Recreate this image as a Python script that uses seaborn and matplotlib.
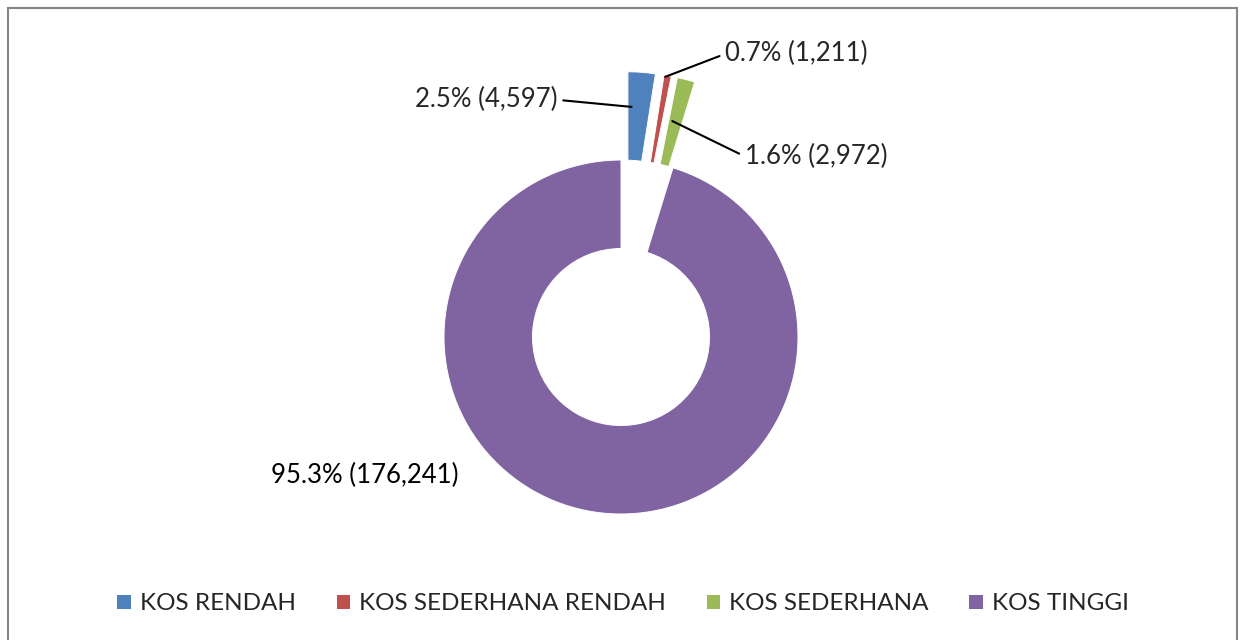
import matplotlib
matplotlib.use("Agg")
import matplotlib.pyplot as plt
import seaborn as sns
from matplotlib.patches import Rectangle

# data
kategori = ['KOS RENDAH', 'KOS SEDERHANA RENDAH', 'KOS SEDERHANA', 'KOS TINGGI']
jumlah = [4597, 1211, 2972, 176241]
warna = ['#4F81BD', '#C0504D', '#9BBB59', '#8064A2']
letupan = [0.5, 0.5, 0.5, 0.0]

sns.set_theme(style="white")
plt.rcParams['font.family'] = ['Lato', 'DejaVu Sans']

fig = plt.figure(figsize=(12.45, 6.4), dpi=100)
ax = fig.add_axes([0, 0, 1, 1])
ax.axis('off')

wedges, _ = ax.pie(jumlah, colors=sns.color_palette(warna), explode=letupan,
                   startangle=90, counterclock=False, radius=1.0,
                   wedgeprops=dict(width=0.5, edgecolor='white', linewidth=0.7))

# same scale on both axes: 177 px per unit, centre at (621, 337) px
ax.set_xlim(-621 / 177, (1245 - 621) / 177)
ax.set_ylim(-303 / 177, 337 / 177)

jumlah_semua = sum(jumlah)
label = [f"{v / jumlah_semua * 100:.1f}% ({v:,})" for v in jumlah]

# label positions (text anchor, point on slice)
posisi = [
    ((-0.36, 1.34), (0.06, 1.30), 'right'),
    ((0.59, 1.60), (0.25, 1.47), 'left'),
    ((0.70, 1.02), (0.29, 1.22), 'left'),
    ((-0.92, -0.78), None, 'right'),
]
for teks, (xt, xy, ha) in zip(label, posisi):
    if xy is None:
        ax.text(xt[0], xt[1], teks, ha=ha, va='center', fontsize=18.5, color='black')
    else:
        ax.annotate(teks, xy=xy, xytext=xt, ha=ha, va='center', fontsize=18.5,
                    arrowprops=dict(arrowstyle='-', color='black', lw=1.5,
                                    relpos=(1, 0.5) if ha == 'right' else (0, 0.5),
                                    shrinkA=2, shrinkB=0))

fig.legend(wedges, kategori, loc='center', bbox_to_anchor=(0.5, 1 - 604 / 640),
           ncol=4, frameon=False, fontsize=17.5, handlelength=0.58, handleheight=0.58,
           handletextpad=0.37, columnspacing=1.65)

# grey frame around the chart area
fig.patches.append(Rectangle((8 / 1245, -0.05), (1237 - 8) / 1245, 1.05 - 8 / 640,
                             transform=fig.transFigure, fill=False,
                             edgecolor='#868686', linewidth=1.5))

fig.savefig('out.png', dpi=100)
